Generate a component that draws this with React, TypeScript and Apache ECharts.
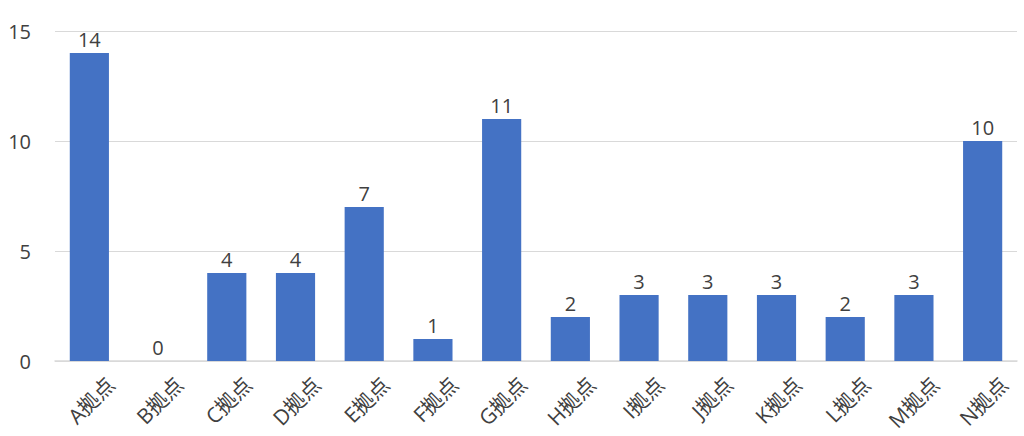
import React, { useEffect, useRef } from "react";
import * as echarts from "echarts";

const categories = ["A拠点", "B拠点", "C拠点", "D拠点", "E拠点", "F拠点", "G拠点", "H拠点", "I拠点", "J拠点", "K拠点", "L拠点", "M拠点", "N拠点"];
const values = [14, 0, 4, 4, 7, 1, 11, 2, 3, 3, 3, 2, 3, 10];
const yTicks = { min: 0, max: 15, interval: 5 };

export default function App() {
  const ref = useRef<HTMLDivElement>(null);
  useEffect(() => {
    const chart = echarts.init(ref.current!, null, { renderer: "svg" });
    const font = "'Open Sans', 'Noto Sans CJK JP', sans-serif";
    chart.setOption({
      animation: false,
      grid: { left: 55, right: 7, top: 31, bottom: 75, containLabel: false },
      xAxis: {
        type: "category",
        data: categories,
        axisLine: { lineStyle: { color: "#d9d9d9", width: 1.5 } },
        axisTick: { show: false },
        axisLabel: { rotate: 45, color: "#404040", fontSize: 21, fontFamily: font, margin: 41, padding: [0, -30, 0, 0], interval: 0 },
      },
      yAxis: {
        type: "value",
        min: yTicks.min,
        max: yTicks.max,
        interval: yTicks.interval,
        axisLine: { show: false },
        axisTick: { show: false },
        splitLine: { lineStyle: { color: "#d9d9d9", width: 1 } },
        axisLabel: { color: "#404040", fontSize: 20, fontFamily: font, margin: 24 },
      },
      series: [
        {
          type: "bar",
          data: values,
          barWidth: "57%",
          itemStyle: { color: "#4472C4" },
          label: { show: true, position: "top", color: "#404040", fontSize: 20, fontFamily: font, distance: 4 },
        },
      ],
    });
    return () => chart.dispose();
  }, []);
  return <div ref={ref} style={{ position: "fixed", left: 0, top: 0, width: 1024, height: 436, background: "#fff" }} />;
}
